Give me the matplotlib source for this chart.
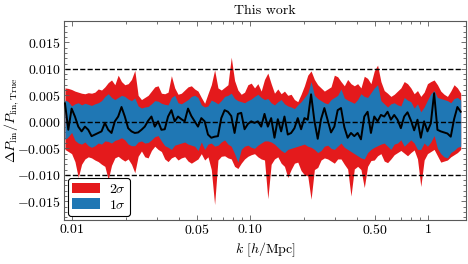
import numpy as np
import matplotlib.pyplot as plt
from matplotlib.ticker import FixedLocator, FuncFormatter, AutoMinorLocator, LogLocator, NullFormatter

plt.rcParams['font.family'] = 'serif'
plt.rcParams['font.serif'] = ['cmr10']
plt.rcParams['mathtext.fontset'] = 'cm'
plt.rcParams['axes.unicode_minus'] = False
plt.rcParams['axes.formatter.use_mathtext'] = True

# k bins (log spaced), values below in units of 1e-3
k = np.geomspace(0.0091, 1.52, 120)

mean = np.array([
    3.5, -1.5, 2.5, 1.0, -0.9, -1.8, -0.9, -1.5, -2.7, -2.4, -2.1, -1.8, -0.2, -1.5, -2.1, 0.1, 1.0, 2.8, 1.0, -1.2, -1.8,
    -2.1, -2.0, -1.5, -0.9, 0.2, 1.0, -0.9, 0.1, -1.5, -1.4, 1.0, 2.2, 0.1, 1.0, 0.5, 0.1, 2.5, 1.1, 0.1, -0.9,
    0.7, 0.1, -2.4, -3.0, -2.8, -2.7, 0.7, 2.2, 1.9, 1.1, -2.1, 1.5, 1.7, -1.4, -0.4, 0.1, -0.2, 0.1, -0.9, 1.5, -0.9,
    0.7, -3.0, 0.5, -1.8, 1.0, -2.4, -2.1, -1.2, 0.7, -1.4, 0.7, 0.4, 5.2, 0.2, -3.2, 0.5, 2.6, 0.3, -2.0, -0.9,
    2.2, 2.6, -1.0, -3.0, -2.1, -2.7, -2.1, -3.3, 1.0, 1.9, -2.1, 1.0, 0.1, 1.3, 1.0, 1.9, 0.4, 1.3, 0.4, -1.2,
    1.0, 1.8, 0.3, -1.6, 0.4, -3.0, 0.1, -1.8, -0.3, 5.4, -1.5, -1.8, -2.0, -2.2, -2.8, 0.5, 2.8, 1.9,
]) * 1e-3

hi1 = np.array([
    4.1, 3.8, 3.0, 3.4, 3.6, 3.2, 3.5, 3.3, 3.1, 3.4, 3.6, 4.0, 4.8, 5.3, 4.6, 4.2, 4.6, 5.0, 4.8, 4.3, 4.0,
    4.5, 3.0, 2.6, 2.8, 2.9, 3.4, 4.0, 3.9, 3.5, 3.3, 3.2, 4.6, 5.0, 3.6, 3.4, 3.8, 4.2, 4.8, 5.0, 4.6,
    3.2, 2.8, 3.0, 4.1, 3.8, 3.4, 4.0, 4.8, 5.0, 5.4, 4.4, 4.0, 3.8, 3.6, 4.0, 4.3, 4.8, 5.2, 4.6, 4.2, 4.4,
    3.6, 3.2, 3.8, 4.2, 3.4, 3.0, 2.8, 2.5, 3.2, 3.8, 4.6, 5.4, 7.6, 5.0, 4.4, 4.0, 3.6, 3.4, 4.2, 4.6,
    5.0, 6.2, 4.5, 4.1, 3.8, 3.5, 4.2, 5.3, 4.8, 4.6, 5.5, 6.4, 7.0, 4.0, 3.4, 2.8, 3.4, 3.6, 3.2, 3.0,
    4.6, 4.1, 3.8, 2.6, 3.4, 1.9, 2.8, 4.1, 5.3, 5.9, 4.6, 4.4, 4.2, 4.0, 3.6, 4.4, 4.6, 4.1,
]) * 1e-3

lo1 = np.array([
    -3.3, -2.8, -2.0, -3.5, -4.0, -4.2, -3.8, -4.5, -4.8, -4.5, -4.0, -4.2, -3.6, -3.7, -4.0, -3.5, -3.3, -3.0, -3.4, -4.2, -4.5,
    -4.5, -3.8, -3.6, -4.0, -3.9, -3.4, -2.8, -2.6, -3.6, -4.5, -4.8, -5.2, -4.4, -4.2, -4.0, -3.8, -4.2, -4.4, -4.6, -5.4,
    -3.8, -5.2, -4.2, -4.0, -4.6, -4.4, -3.8, -3.4, -4.2, -4.6, -6.0, -7.6, -5.2, -4.6, -4.4, -4.8, -5.0, -4.4, -4.0, -3.6, -3.6,
    -3.8, -4.2, -4.8, -5.4, -5.8, -5.2, -5.0, -4.8, -4.6, -4.4, -4.2, -4.6, -4.8, -5.2, -5.8, -5.4, -4.6, -4.4, -5.0, -5.2,
    -4.6, -4.0, -4.8, -5.2, -5.6, -6.0, -6.4, -6.8, -7.0, -5.8, -5.2, -4.8, -4.5, -4.2, -4.0, -4.6, -5.2, -4.2, -4.0, -3.4,
    -4.6, -4.0, -3.4, -4.0, -5.2, -5.2, -4.0, -4.6, -3.8, -2.6, -5.0, -6.0, -6.6, -6.8, -5.8, -5.4, -4.8, -4.6,
]) * 1e-3

hi2 = np.array([
    6.4, 6.3, 6.1, 5.8, 5.6, 5.4, 5.3, 5.5, 5.4, 5.6, 6.2, 6.0, 6.6, 7.4, 7.9, 7.0, 8.8, 7.6, 7.0, 7.2, 8.0,
    9.7, 5.0, 4.2, 4.6, 5.0, 5.8, 6.6, 6.8, 5.4, 5.3, 5.6, 8.7, 6.4, 5.2, 5.4, 6.0, 6.6, 6.8, 6.2, 5.8,
    4.6, 3.5, 5.3, 7.0, 9.8, 6.4, 6.0, 6.5, 7.0, 12.2, 7.8, 6.0, 5.2, 5.6, 7.0, 7.3, 6.4, 7.2, 5.8, 8.0, 9.2,
    7.2, 5.4, 6.2, 5.3, 5.8, 5.0, 5.2, 4.2, 3.8, 5.2, 6.8, 8.8, 9.6, 8.0, 7.0, 6.4, 5.8, 6.2, 6.6, 8.8,
    8.5, 7.6, 6.8, 8.0, 7.2, 6.8, 7.2, 6.4, 8.6, 8.2, 7.2, 9.6, 10.7, 7.6, 5.9, 5.4, 4.8, 5.2, 5.8, 6.4,
    7.6, 7.2, 6.4, 5.3, 5.9, 4.8, 5.6, 7.2, 7.6, 7.9, 7.0, 5.8, 5.2, 4.8, 5.8, 7.0, 6.4, 5.4,
]) * 1e-3

lo2 = np.array([
    -5.2, -5.6, -6.0, -7.5, -10.5, -8.0, -7.0, -6.6, -6.8, -7.2, -7.5, -8.0, -8.4, -10.9, -8.2, -6.8, -6.5, -7.0, -7.4, -7.0, -8.0,
    -9.6, -6.5, -5.5, -6.6, -6.8, -5.4, -4.6, -5.2, -5.6, -7.0, -7.5, -6.8, -6.5, -7.2, -6.8, -6.6, -7.4, -7.8, -7.4, -7.0,
    -6.0, -7.2, -6.6, -9.0, -15.6, -7.2, -6.5, -6.4, -6.8, -7.0, -8.4, -8.8, -7.8, -7.0, -6.5, -6.2, -6.0, -6.6, -7.0, -7.2, -14.5,
    -8.0, -7.0, -6.6, -7.8, -8.4, -10.5, -9.0, -7.8, -7.6, -9.2, -10.0, -10.2, -14.6, -9.0, -8.6, -7.2, -6.8, -7.0, -7.4, -7.8,
    -7.0, -7.0, -8.0, -8.9, -14.0, -8.9, -8.4, -9.0, -12.4, -8.4, -7.3, -7.2, -6.4, -6.0, -7.4, -7.7, -7.0, -6.2, -5.8, -5.4,
    -5.9, -6.4, -5.8, -5.3, -7.0, -12.2, -7.2, -6.0, -5.6, -5.2, -6.4, -7.6, -7.4, -7.2, -6.6, -6.2, -5.8, -5.2,
]) * 1e-3

ref_levels = [-0.01, 0.0, 0.01]
xtick_vals = [0.01, 0.05, 0.1, 0.5, 1]
xtick_labels = ['$0.01$', '$0.05$', '$0.10$', '$0.50$', '$1$']

fig = plt.figure(figsize=(4.68, 2.64), dpi=100)
ax = fig.add_axes([0.137, 0.167, 0.859, 0.753])

ax.axhline(0, color='0.6', lw=0.6, zorder=0.5)
ax.fill_between(k, lo2, hi2, color='#e41a1c', lw=0, label=r'$2\sigma$', zorder=1)
ax.fill_between(k, lo1, hi1, color='#1f77b4', lw=0, label=r'$1\sigma$', zorder=2)
ax.hlines(ref_levels, k[0], k[-1], colors='k', linestyles='--', lw=1.0, zorder=3)
ax.plot(k, mean, color='k', lw=1.4, zorder=4)

ax.set_xscale('log')
ax.set_xlim(0.0090, 1.63)
ax.set_ylim(-0.0185, 0.019)

ax.xaxis.set_major_locator(FixedLocator(xtick_vals))
ax.set_xticklabels(xtick_labels)
ax.xaxis.set_minor_locator(LogLocator(base=10, subs=(2, 3, 4, 5, 6, 7, 8, 9)))
ax.xaxis.set_minor_formatter(NullFormatter())

ax.yaxis.set_major_locator(FixedLocator([-0.015, -0.01, -0.005, 0.0, 0.005, 0.01, 0.015]))
ax.yaxis.set_major_formatter(FuncFormatter(lambda v, _: f'${v:.3f}$'))
ax.yaxis.set_minor_locator(AutoMinorLocator(5))

ax.tick_params(which='both', direction='in', top=True, right=True, color='0.35', width=0.6, labelsize=10, pad=2.5)
ax.tick_params(which='major', length=3.5)
ax.tick_params(which='minor', length=2)
for s in ax.spines.values():
    s.set_color('0.35')
    s.set_linewidth(0.8)

ax.set_title('This work', fontsize=10, pad=5)
ax.set_xlabel(r'$k\ [h/\mathrm{Mpc}]$', fontsize=10, labelpad=2)
ax.set_ylabel(r'$\Delta P_{\rm lin}/P_{\rm lin,True}$', fontsize=10)
ax.yaxis.set_label_coords(-0.108, 0.5)

leg = ax.legend(loc='lower left', fontsize=10, frameon=True, fancybox=True,
                edgecolor='k', framealpha=1, handlelength=2.0, handleheight=0.8,
                handletextpad=0.6, borderaxespad=0.3, labelspacing=0.2, borderpad=0.3)
leg.get_frame().set_linewidth(0.8)

fig.savefig('out.png', dpi=100)
